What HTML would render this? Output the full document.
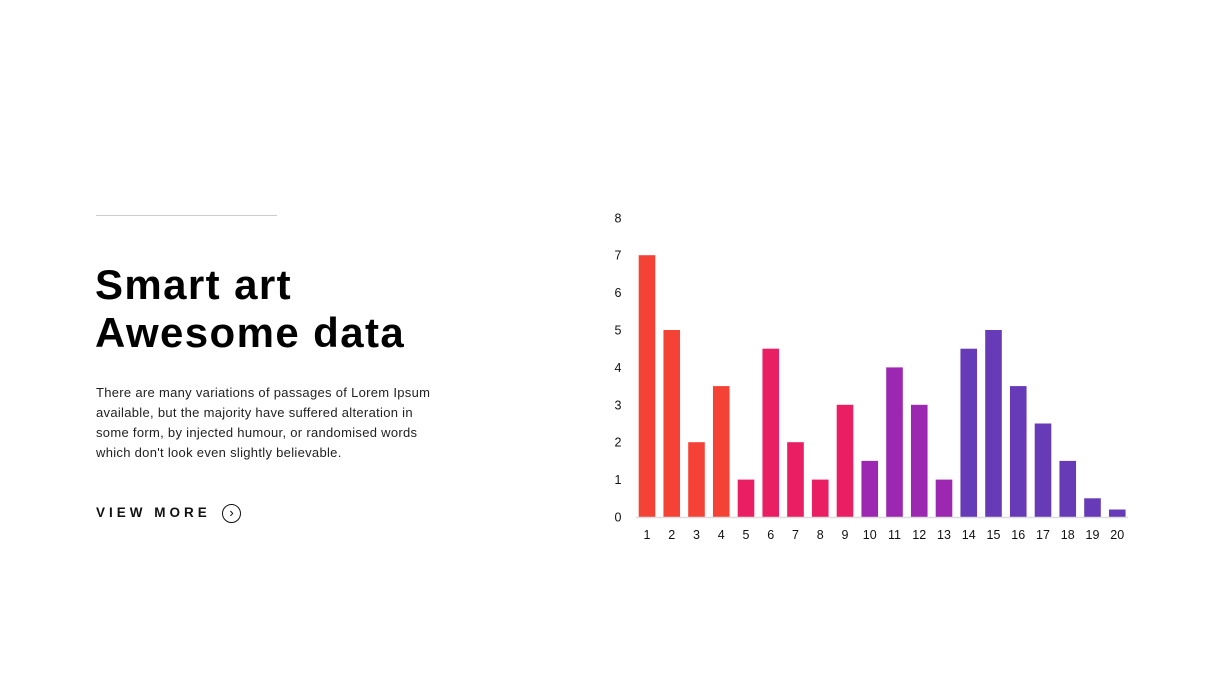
<!DOCTYPE html>
<html><head><meta charset="utf-8"><style>
body{margin:0;width:1226px;height:690px;background:#fff;font-family:"Liberation Sans",sans-serif;overflow:hidden;position:relative}
.rule{position:absolute;left:96px;top:215px;width:181px;height:1px;background:#ccc}
h1{position:absolute;left:95px;top:261px;margin:0;font-size:42px;line-height:48px;font-weight:bold;color:#000;letter-spacing:1.4px}
p{position:absolute;left:96px;top:383px;margin:0;white-space:nowrap;font-size:13px;line-height:20px;color:#222;letter-spacing:0.3px}
.vm{position:absolute;left:96px;top:505px;font-size:13.5px;font-weight:bold;letter-spacing:4px;color:#111}
.circ{position:absolute;left:222px;top:504px;width:17px;height:17px;border:1.5px solid #111;border-radius:50%;font-size:13px;line-height:16px;text-align:center}
</style></head><body>
<div class="rule"></div>
<h1>Smart art<br>Awesome data</h1>
<p>There are many variations of passages of Lorem Ipsum<br>available, but the majority have suffered alteration in<br>some form, by injected humour, or randomised words<br>which don't look even slightly believable.</p>
<div class="vm">VIEW MORE</div>
<div class="circ">›</div>
<svg id="chart" width="1226" height="690" style="position:absolute;left:0;top:0"></svg>
<script>
const categories=["1","2","3","4","5","6","7","8","9","10","11","12","13","14","15","16","17","18","19","20"];
const values=[7,5,2,3.5,1,4.5,2,1,3,1.5,4,3,1,4.5,5,3.5,2.5,1.5,0.5,0.2];
const yTicks=[0,1,2,3,4,5,6,7,8];
const colors=["#f44336","#f44336","#f44336","#f44336","#e91e63","#e91e63","#e91e63","#e91e63","#e91e63","#9c27b0","#9c27b0","#9c27b0","#9c27b0","#673ab7","#673ab7","#673ab7","#673ab7","#673ab7","#673ab7","#673ab7"];
const svg=document.getElementById('chart');const NS="http://www.w3.org/2000/svg";
function y(v){return 517-v*37.4;}
function x(i){return 647+i*24.75;}
function mk(t,a){const e=document.createElementNS(NS,t);for(const k in a)e.setAttribute(k,a[k]);svg.appendChild(e);return e;}
yTicks.forEach(t=>{const e=mk('text',{x:618,y:y(t)+4.5,'text-anchor':'middle','font-size':12.5,fill:'#111','font-family':'Liberation Sans, sans-serif'});e.textContent=t;

});
values.forEach((v,i)=>{const r=mk('rect',{x:x(i)-8.3,y:y(v),width:16.6,height:517-y(v),fill:colors[i]});


const t=mk('text',{x:x(i),y:539,'text-anchor':'middle','font-size':12.5,fill:'#111','font-family':'Liberation Sans, sans-serif'});t.textContent=categories[i];

});
const l=mk('line',{x1:636,x2:1128,y1:517.5,y2:517.5,stroke:'#ddd','stroke-width':1.5});


</script>
</body></html>
